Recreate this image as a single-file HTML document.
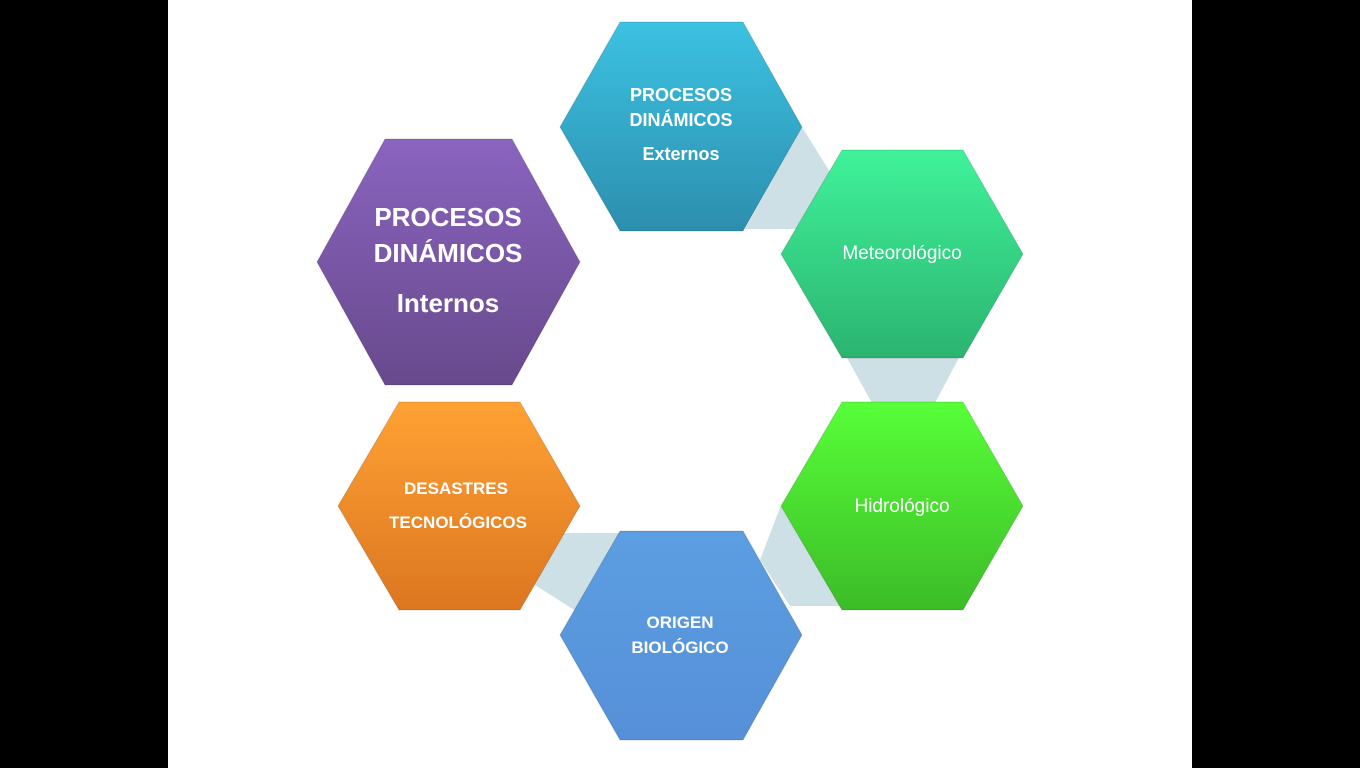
<!DOCTYPE html>
<html><head><meta charset="utf-8"><style>
html,body{margin:0;padding:0;background:#000;width:1360px;height:768px;overflow:hidden}
svg{display:block}
text{font-family:"Liberation Sans",sans-serif;fill:#fff;text-anchor:middle}
</style></head><body>
<svg width="1360" height="768" viewBox="0 0 1360 768">
<defs>
<linearGradient id="gb" x1="0" y1="0" x2="0" y2="1"><stop offset="0" stop-color="#3cc2e2"/><stop offset="1" stop-color="#2d8eae"/></linearGradient>
<linearGradient id="gm" x1="0" y1="0" x2="0" y2="1"><stop offset="0" stop-color="#40f29a"/><stop offset="1" stop-color="#2bb470"/></linearGradient>
<linearGradient id="gh" x1="0" y1="0" x2="0" y2="1"><stop offset="0" stop-color="#58ff38"/><stop offset="1" stop-color="#3cbc28"/></linearGradient>
<linearGradient id="go" x1="0" y1="0" x2="0" y2="1"><stop offset="0" stop-color="#5c9ee2"/><stop offset="1" stop-color="#5690d8"/></linearGradient>
<linearGradient id="gd" x1="0" y1="0" x2="0" y2="1"><stop offset="0" stop-color="#ffa234"/><stop offset="1" stop-color="#dc7620"/></linearGradient>
<linearGradient id="gp" x1="0" y1="0" x2="0" y2="1"><stop offset="0" stop-color="#8a64bf"/><stop offset="1" stop-color="#68498c"/></linearGradient>
</defs>
<rect x="168" y="0" width="1024" height="768" fill="#fff"/>
<g fill="#cde0e6">
<polygon points="802,127 835,180 796,229 745,229"/>
<polygon points="846,356 960,356 935,403 872,403"/>
<polygon points="781,505 800,530 842,606 790,606 760,560"/>
<polygon points="560,533 625,533 590,620 535,585"/>
</g>
<g stroke="rgba(0,0,0,0.15)" stroke-width="1">
<polygon points="560,127 620,22 743,22 802,127 743,231 620,231" fill="url(#gb)"/>
<polygon points="781,254 842,150 963,150 1023,254 963,358 842,358" fill="url(#gm)"/>
<polygon points="781,506 842,402 963,402 1023,506 963,610 842,610" fill="url(#gh)"/>
<polygon points="560,635 620,531 743,531 802,635 743,740 620,740" fill="url(#go)"/>
<polygon points="338,506 399,402 520,402 580,506 520,610 399,610" fill="url(#gd)"/>
<polygon points="317,262 385,139 512,139 580,262 512,385 385,385" fill="url(#gp)"/>
</g>
<g font-weight="bold" font-size="18">
<text x="681" y="101">PROCESOS</text>
<text x="681" y="126">DINÁMICOS</text>
<text x="681" y="160">Externos</text>
</g>
<g font-weight="bold" font-size="26">
<text x="448" y="226">PROCESOS</text>
<text x="448" y="262">DINÁMICOS</text>
<text x="448" y="312">Internos</text>
</g>
<text x="902" y="259" font-size="19">Meteorológico</text>
<text x="902" y="512" font-size="19">Hidrológico</text>
<g font-weight="bold" font-size="17">
<text x="456" y="494">DESASTRES</text>
<text x="458" y="528">TECNOLÓGICOS</text>
<text x="680" y="628">ORIGEN</text>
<text x="680" y="653">BIOLÓGICO</text>
</g>
</svg>
</body></html>
